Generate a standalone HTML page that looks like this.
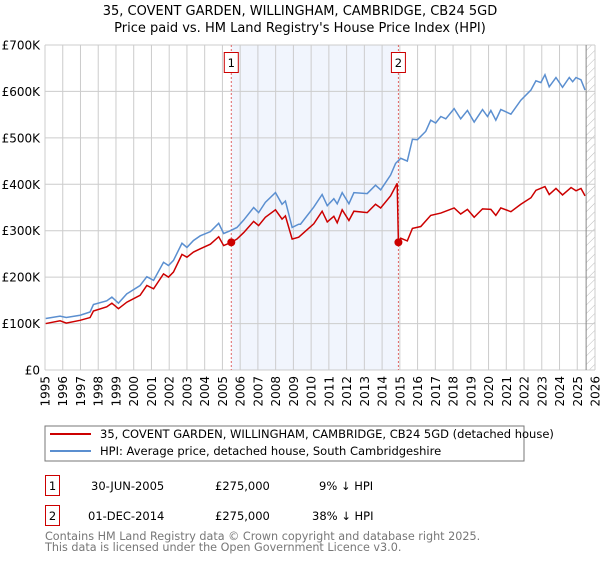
<!DOCTYPE html>
<html><head><meta charset="utf-8"><style>
body{margin:0;background:#fff;font-family:"Liberation Sans","DejaVu Sans",sans-serif;}
svg text{font-family:"DejaVu Sans","Liberation Sans",sans-serif;}
</style></head><body>
<svg id="chart" width="600" height="560" xmlns="http://www.w3.org/2000/svg">
<defs><pattern id="hatch" width="6" height="6" patternUnits="userSpaceOnUse" patternTransform="rotate(45)"><line x1="0" y1="0" x2="0" y2="6" stroke="#bbb" stroke-width="1"/></pattern></defs>
<text x="300" y="15" text-anchor="middle" font-size="13">35, COVENT GARDEN, WILLINGHAM, CAMBRIDGE, CB24 5GD</text>
<text x="300" y="32" text-anchor="middle" font-size="13">Price paid vs. HM Land Registry's House Price Index (HPI)</text>
<g id="plot"></g>
<rect x="45" y="426" width="479" height="35" fill="#fff" stroke="#777"/>
<line x1="50" y1="434" x2="91" y2="434" stroke="#cc0000" stroke-width="2"/>
<text x="100" y="438" font-size="11.5">35, COVENT GARDEN, WILLINGHAM, CAMBRIDGE, CB24 5GD (detached house)</text>
<line x1="50" y1="451" x2="91" y2="451" stroke="#5b8fd0" stroke-width="2"/>
<text x="100" y="455" font-size="11.5">HPI: Average price, detached house, South Cambridgeshire</text>
<rect x="45.5" y="475.5" width="14" height="20" fill="#fff" stroke="#cc0000"/>
<text x="52.5" y="490" text-anchor="middle" font-size="11.5">1</text>
<text x="91" y="490" font-size="11.5">30-JUN-2005</text>
<text x="215" y="490" font-size="11.5">£275,000</text>
<text x="319" y="490" font-size="11.5">9% ↓ HPI</text>
<rect x="45.5" y="505.5" width="14" height="20" fill="#fff" stroke="#cc0000"/>
<text x="52.5" y="520" text-anchor="middle" font-size="11.5">2</text>
<text x="88" y="520" font-size="11.5">01-DEC-2014</text>
<text x="215" y="520" font-size="11.5">£275,000</text>
<text x="312" y="520" font-size="11.5">38% ↓ HPI</text>
<text x="45" y="540" font-size="11.2" fill="#777">Contains HM Land Registry data © Crown copyright and database right 2025.</text>
<text x="45" y="551" font-size="11.2" fill="#777">This data is licensed under the Open Government Licence v3.0.</text>
</svg>
<script>
const yTicks=[0,100,200,300,400,500,600,700];
const yTickLabels=["£0","£100K","£200K","£300K","£400K","£500K","£600K","£700K"];
const xYears=[1995,1996,1997,1998,1999,2000,2001,2002,2003,2004,2005,2006,2007,2008,2009,2010,2011,2012,2013,2014,2015,2016,2017,2018,2019,2020,2021,2022,2023,2024,2025,2026];
const saleYears=[2005.5,2014.92];
const saleValues=[275,275];
const saleLabels=["1","2"];
const hpiYears=[1995.04,1995.85,1996.2,1996.98,1997.54,1997.73,1998.48,1998.77,1999.14,1999.61,2000.36,2000.74,2001.12,2001.68,2001.96,2002.24,2002.72,2003.0,2003.37,2003.75,2004.32,2004.79,2005.07,2005.45,2005.82,2006.2,2006.76,2007.04,2007.42,2007.99,2008.36,2008.55,2008.93,2009.3,2009.4,2010.15,2010.62,2010.91,2011.28,2011.47,2011.75,2012.13,2012.41,2013.16,2013.63,2013.92,2014.48,2014.76,2015.05,2015.42,2015.71,2015.99,2016.46,2016.74,2017.02,2017.31,2017.59,2018.06,2018.43,2018.81,2019.19,2019.66,2019.94,2020.13,2020.41,2020.69,2020.98,2021.26,2021.82,2022.39,2022.67,2022.95,2023.18,2023.42,2023.8,2024.17,2024.55,2024.74,2024.93,2025.21,2025.44];
const hpiValues=[111,116,113,118,125,141,149,157,144,164,182,201,193,232,225,236,273,264,279,289,298,316,294,300,307,323,350,339,361,382,357,364,307,314,314,351,378,354,369,358,382,358,382,380,398,388,420,445,456,450,497,496,514,538,532,546,541,563,541,559,534,561,546,559,538,561,556,551,581,603,623,619,636,610,630,609,630,621,630,625,603];
const ppYears=[1995.04,1995.85,1996.2,1996.98,1997.54,1997.73,1998.48,1998.77,1999.14,1999.61,2000.36,2000.74,2001.12,2001.68,2001.96,2002.24,2002.72,2003.0,2003.37,2003.75,2004.32,2004.79,2005.07,2005.5,2005.82,2006.2,2006.76,2007.04,2007.42,2007.99,2008.36,2008.55,2008.93,2009.3,2009.68,2010.15,2010.62,2010.91,2011.28,2011.47,2011.75,2012.13,2012.41,2013.16,2013.63,2013.92,2014.48,2014.85,2014.92,2015.05,2015.42,2015.71,2016.18,2016.74,2017.31,2018.06,2018.43,2018.81,2019.19,2019.66,2020.13,2020.41,2020.69,2021.26,2021.82,2022.39,2022.67,2023.18,2023.42,2023.8,2024.17,2024.65,2024.93,2025.21,2025.44];
const ppValues=[100,106,101,107,113,127,136,144,132,146,161,182,175,207,200,211,249,243,254,261,271,287,268,275,282,296,320,311,329,345,325,332,282,286,299,315,342,319,331,317,345,322,342,339,357,349,375,402,275,284,278,305,309,333,338,349,336,346,329,347,346,333,349,341,357,371,387,395,378,391,377,393,386,391,375];

const NS="http://www.w3.org/2000/svg";
const L=45,R=595,T=45,B=370,Y0=1995,Y1=2026,VMAX=700;
function xs(y){return L+(y-Y0)/(Y1-Y0)*(R-L);}
function ys(v){return B-v/VMAX*(B-T);}
const g=document.getElementById('plot');
function mk(tag,attrs){const e=document.createElementNS(NS,tag);for(const k in attrs)e.setAttribute(k,attrs[k]);g.appendChild(e);return e;}
let e;
e=mk('rect',{x:xs(saleYears[0]),y:T,width:xs(saleYears[1])-xs(saleYears[0]),height:B-T,fill:'#eef2fc',opacity:0.8});


e=mk('rect',{x:xs(2025.5),y:T,width:R-xs(2025.5),height:B-T,fill:'url(#hatch)'});


xYears.forEach(yr=>{
  const x=xs(yr);
  const ln=mk('line',{x1:x,y1:T,x2:x,y2:B,stroke:'#ccc','stroke-width':1});
  
  
  const t=mk('text',{x:0,y:0,'font-size':12,'text-anchor':'end',transform:`translate(${x+4.5},376) rotate(-90)`});
  t.textContent=yr;
  
  
});
yTicks.forEach((v,i)=>{
  const y=ys(v);
  const ln=mk('line',{x1:L,y1:y,x2:R,y2:y,stroke:'#ccc','stroke-width':1});
  
  
  const t=mk('text',{x:40,y:y+4.5,'font-size':12,'text-anchor':'end'});
  t.textContent=yTickLabels[i];
  
  
});
e=mk('line',{x1:xs(2025.5),y1:T,x2:xs(2025.5),y2:B,stroke:'#888','stroke-width':1});


saleYears.forEach((yr,i)=>{
  const x=xs(yr);
  const ln=mk('line',{x1:x,y1:T,x2:x,y2:B,stroke:'#e06666','stroke-width':1,'stroke-dasharray':'2,2'});
  
  
  const r=mk('rect',{x:x-7,y:52.5,width:14,height:20,fill:'#fff',stroke:'#cc0000'});
  
  
  const t=mk('text',{x:x,y:67,'font-size':11.5,'text-anchor':'middle'});
  t.textContent=saleLabels[i];
  
  
});
e=mk('polyline',{points:hpiYears.map((y,i)=>xs(y)+','+ys(hpiValues[i])).join(' '),fill:'none',stroke:'#5b8fd0','stroke-width':1.5});


e=mk('polyline',{points:ppYears.map((y,i)=>xs(y)+','+ys(ppValues[i])).join(' '),fill:'none',stroke:'#cc0000','stroke-width':1.5});


saleYears.forEach((yr,i)=>{
  const c=mk('circle',{cx:xs(yr),cy:ys(saleValues[i]),r:4,fill:'#cc0000'});
  
  
});
</script>
</body></html>
